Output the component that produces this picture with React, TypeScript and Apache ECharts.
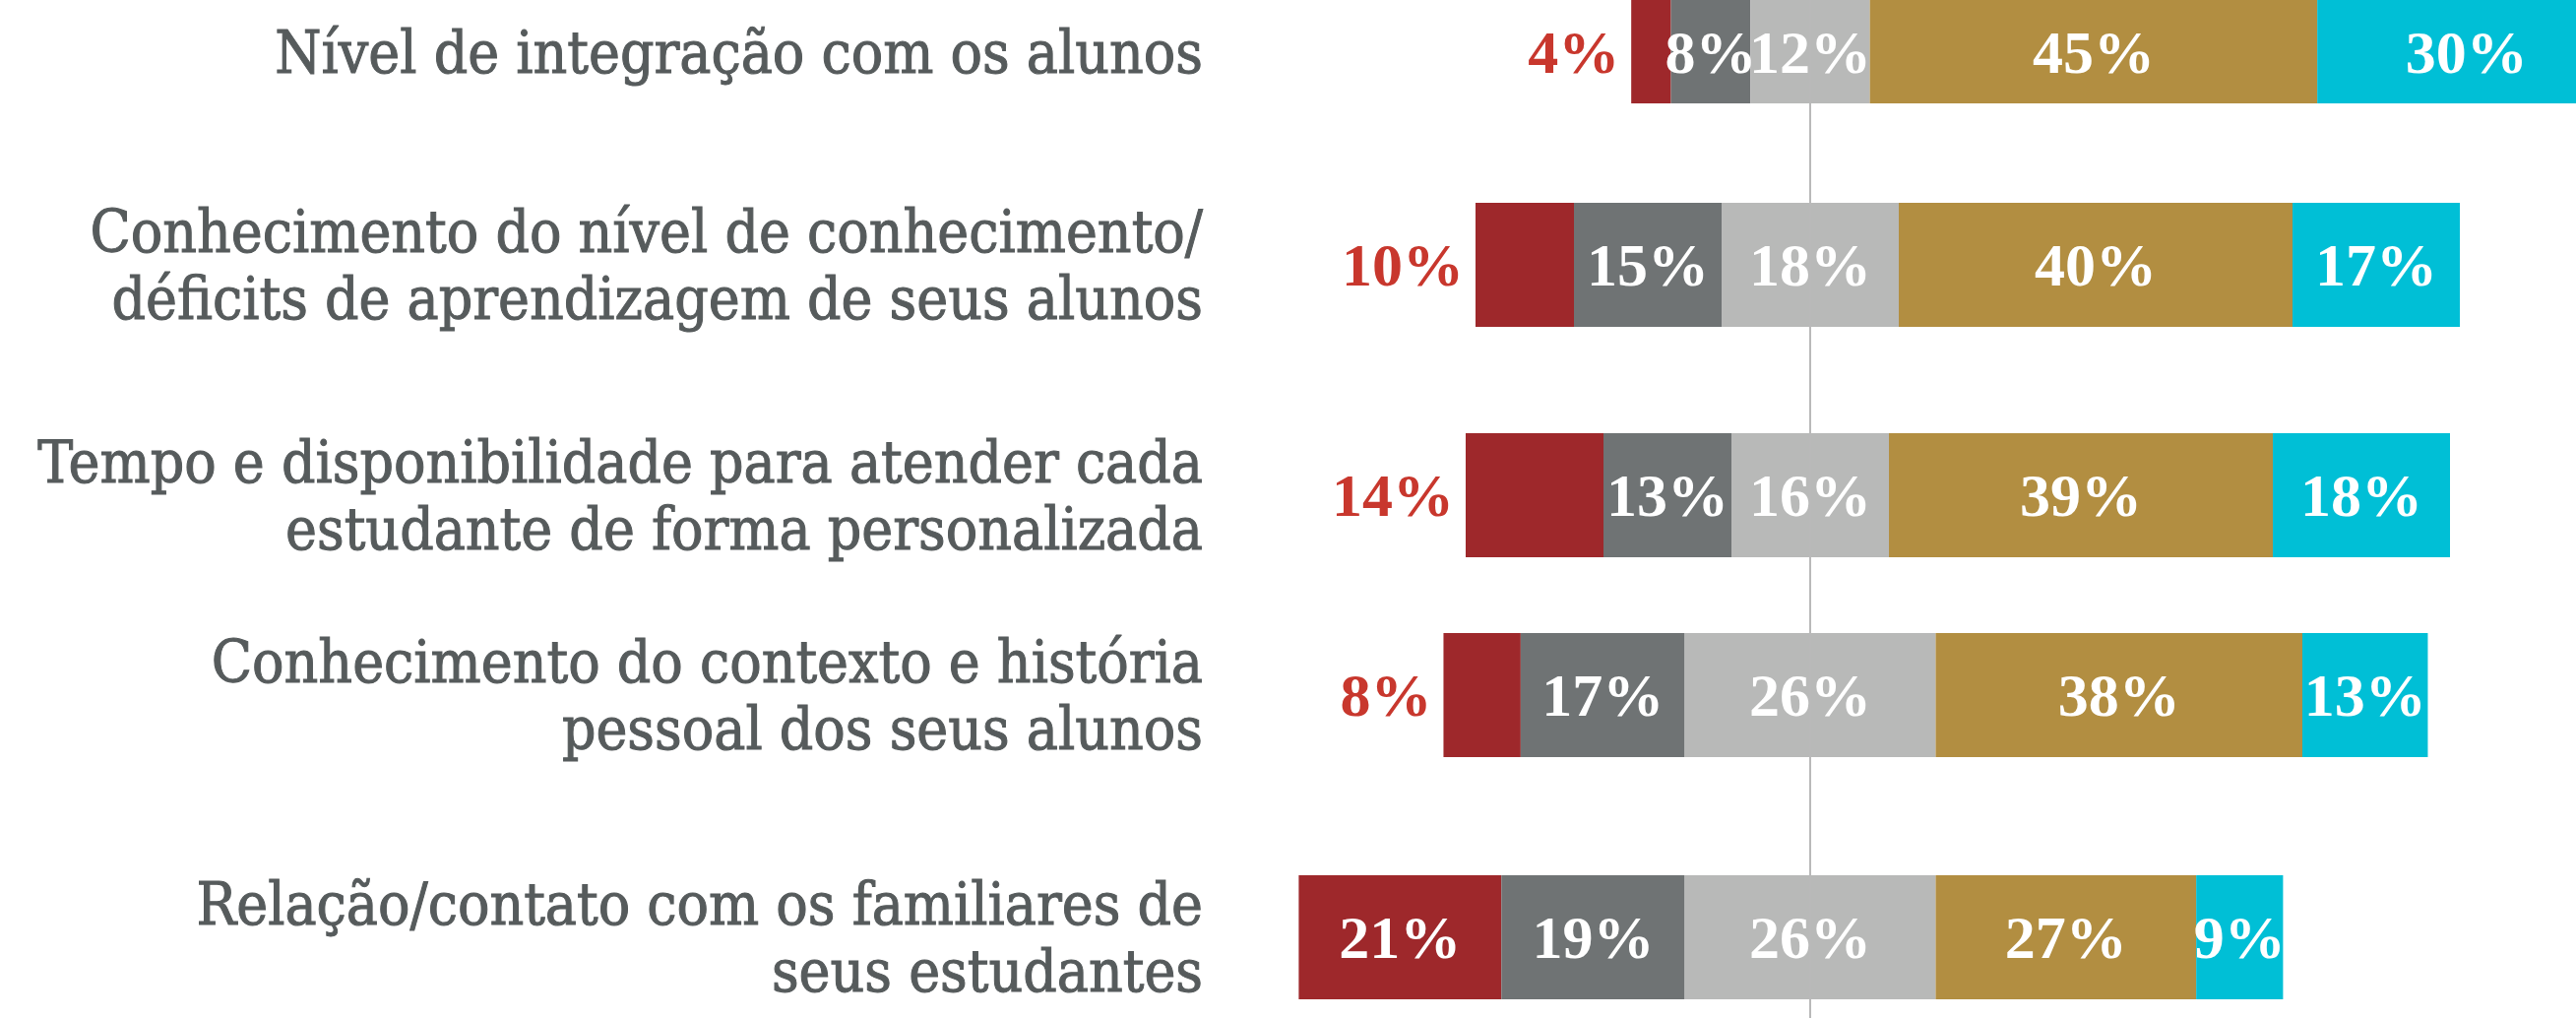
import React, { useEffect, useRef } from "react";
import * as echarts from "echarts";

const categories = [
  "Nível de integração com os alunos",
  "Conhecimento do nível de conhecimento/\ndéficits de aprendizagem de seus alunos",
  "Tempo e disponibilidade para atender cada\nestudante de forma personalizada",
  "Conhecimento do contexto e história\npessoal dos seus alunos",
  "Relação/contato com os familiares de\nseus estudantes",
];

const veryLow = [4, 10, 14, 8, 21];
const low = [8, 15, 13, 17, 19];
const neutral = [12, 18, 16, 26, 26];
const high = [45, 40, 39, 38, 27];
const veryHigh = [30, 17, 18, 13, 9];

const levels = [
  { name: "veryLow", values: veryLow, color: "#9e282b" },
  { name: "low", values: low, color: "#6f7374" },
  { name: "neutral", values: neutral, color: "#b8b9b8" },
  { name: "high", values: high, color: "#b28e41" },
  { name: "veryHigh", values: veryHigh, color: "#00bfd6" },
];

// layout
const chartW = 2617;
const chartH = 1034;
const rowTops = [-21, 206, 440, 643, 889];
const barHeight = 126;
const gridLeft = 1239;
const pxPerUnit = 10;
const axisMax = (chartW - gridLeft) / pxPerUnit;
const center = 60;
const textColor = "#565b5c";
const redLabel = "#c8372d";
const catFont = "'DejaVu Serif Condensed', 'DejaVu Serif', serif";
const numFont = "'Liberation Serif', 'DejaVu Serif', serif";

function buildOption() {
  const grids: any[] = [];
  const xAxes: any[] = [];
  const yAxes: any[] = [];
  const series: any[] = [];

  categories.forEach((cat, i) => {
    grids.push({ left: gridLeft, right: 0, top: rowTops[i], height: barHeight, containLabel: false });
    xAxes.push({ type: "value", gridIndex: i, min: 0, max: axisMax, show: false });
    yAxes.push({
      type: "category",
      gridIndex: i,
      data: [cat],
      axisLine: { show: false },
      axisTick: { show: false },
      splitLine: { show: false },
      axisLabel: {
        margin: 17,
        color: textColor,
        fontFamily: catFont,
        fontSize: 60,
        lineHeight: 68,
        align: "right",
        textBorderColor: textColor,
        textBorderWidth: 1,
      },
    });
    const total = levels.reduce((s, l) => s + l.values[i], 0);
    const k = 100 / total;
    const leftPart = (veryLow[i] + low[i] + neutral[i] / 2) * k;
    series.push({
      type: "bar",
      xAxisIndex: i,
      yAxisIndex: i,
      stack: "row" + i,
      barWidth: "100%",
      silent: true,
      clip: false,
      itemStyle: { color: "rgba(0,0,0,0)" },
      data: [center - leftPart],
      z: 2,
    });
    levels.forEach((lvl, j) => {
      const v = lvl.values[i];
      const outside = j === 0 && v < 15;
      series.push({
        type: "bar",
        name: lvl.name,
        xAxisIndex: i,
        yAxisIndex: i,
        stack: "row" + i,
        barWidth: "100%",
        clip: false,
        itemStyle: { color: lvl.color },
        z: 2,
        label: {
          show: true,
          position: outside ? "left" : "inside",
          distance: 12,
          color: outside ? redLabel : "#ffffff",
          fontFamily: numFont,
          fontWeight: "bold",
          fontSize: 62,
          formatter: (p: any) => p.data.raw + "%",
        },
        data: [{ value: v * k, raw: v }],
      });
    });
  });

  // center reference line grid
  const gi = categories.length;
  grids.push({ left: gridLeft, right: 0, top: 0, height: chartH });
  xAxes.push({ type: "value", gridIndex: gi, min: 0, max: axisMax, show: false });
  yAxes.push({ type: "value", gridIndex: gi, min: 0, max: 1, show: false });
  series.push({
    type: "line",
    xAxisIndex: gi,
    yAxisIndex: gi,
    data: [],
    z: 0,
    silent: true,
    markLine: {
      silent: true,
      symbol: "none",
      label: { show: false },
      lineStyle: { color: "#b9b9b9", width: 2, type: "solid" },
      data: [{ xAxis: center }],
    },
  });

  return {
    animation: false,
    backgroundColor: "#ffffff",
    grid: grids,
    xAxis: xAxes,
    yAxis: yAxes,
    series,
  };
}

export default function App() {
  const ref = useRef<HTMLDivElement>(null);
  useEffect(() => {
    document.body.style.margin = "0";
    if (!ref.current) return;
    const chart = echarts.init(ref.current, undefined, { renderer: "svg" });
    chart.setOption(buildOption() as any);
    return () => chart.dispose();
  }, []);
  return <div ref={ref} style={{ width: chartW, height: chartH }} />;
}
